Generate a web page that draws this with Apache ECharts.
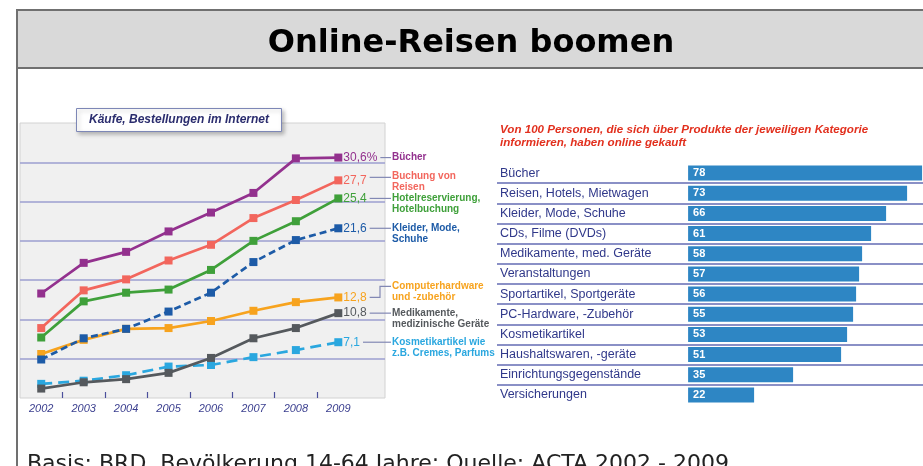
<!DOCTYPE html>
<html>
<head>
<meta charset="utf-8">
<script src="https://cdn.jsdelivr.net/npm/echarts@6/dist/echarts.min.js"></script>
<style>
  html, body { margin: 0; padding: 0; background: #fff; }
  #chart { width: 923px; height: 466px; }
</style>
</head>
<body>
<div id="chart"></div>
<script>
// line chart data (percent of population buying online)
var years = [2002, 2003, 2004, 2005, 2006, 2007, 2008, 2009];
var buecher     = [13.3, 17.2, 18.6, 21.2, 23.6, 26.1, 30.5, 30.6];
var reisen      = [8.9, 13.7, 15.1, 17.5, 19.5, 22.9, 25.2, 27.7];
var hotel       = [7.7, 12.3, 13.4, 13.8, 16.3, 20.0, 22.5, 25.4];
var kleider     = [4.9, 7.6, 8.8, 11.0, 13.4, 17.3, 20.1, 21.6];
var computer    = [5.6, 7.4, 8.8, 8.9, 9.8, 11.1, 12.2, 12.8];
var medikamente = [1.2, 2.0, 2.4, 3.2, 5.1, 7.6, 8.9, 10.8];
var kosmetik    = [1.8, 2.2, 2.9, 4.0, 4.2, 5.2, 6.1, 7.1];
var endTexts = ['30,6%', '27,7', '25,4', '21,6', '12,8', '10,8', '7,1'];
var lineNames = [
  'Bücher',
  'Buchung von\nReisen',
  'Hotelreservierung,\nHotelbuchung',
  'Kleider, Mode,\nSchuhe',
  'Computerhardware\nund -zubehör',
  'Medikamente,\nmedizinische Geräte',
  'Kosmetikartikel wie\nz.B. Cremes, Parfums'
];

// bar chart data
var barCats = ['Bücher', 'Reisen, Hotels, Mietwagen', 'Kleider, Mode, Schuhe', 'CDs, Filme (DVDs)',
  'Medikamente, med. Geräte', 'Veranstaltungen', 'Sportartikel, Sportgeräte', 'PC-Hardware, -Zubehör',
  'Kosmetikartikel', 'Haushaltswaren, -geräte', 'Einrichtungsgegenstände', 'Versicherungen'];
var barValues = [78, 73, 66, 61, 58, 57, 56, 55, 53, 51, 35, 22];

var colors = ['#93318e', '#f2665d', '#3fa03a', '#1d5ba7', '#f7a31e', '#55595d', '#2aa7df'];
var dashes = ['solid', 'solid', 'solid', [7, 4], 'solid', 'solid', [11, 6]];
var nameDy = [0, -4, 0, 0, -11, 0, 0];
var allValues = [buecher, reisen, hotel, kleider, computer, medikamente, kosmetik];

var chart = echarts.init(document.getElementById('chart'));

var lineSeries = allValues.map(function (vals, i) {
  return {
    type: 'line',
    xAxisIndex: 0,
    yAxisIndex: 0,
    data: years.map(function (y, k) { return [y, vals[k]]; }),
    symbol: 'rect',
    symbolSize: 8,
    color: colors[i],
    lineStyle: { width: 2.7, type: dashes[i] },
    z: 10 - i,
    endLabel: {
      show: true,
      formatter: endTexts[i],
      color: colors[i],
      fontSize: 12,
      fontFamily: 'Liberation Sans',
      distance: 5
    },
    animation: false
  };
});

chart.setOption({
  animation: false,
  title: [{
    text: 'Käufe, Bestellungen im Internet',
    left: 76,
    top: 108,
    padding: [6, 13],
    backgroundColor: '#fff',
    borderColor: '#7d87b6',
    borderWidth: 1,
    shadowColor: 'rgba(0,0,0,0.25)',
    shadowBlur: 4,
    shadowOffsetX: 2,
    shadowOffsetY: 2,
    textStyle: { fontSize: 12, fontStyle: 'italic', fontWeight: 'bold', color: '#2b2d6e', fontFamily: 'Liberation Sans' }
  }, {
    text: 'Von 100 Personen, die sich über Produkte der jeweiligen Kategorie\ninformieren, haben online gekauft',
    left: 500,
    top: 123,
    padding: 0,
    textStyle: { fontSize: 11.6, fontStyle: 'italic', fontWeight: 'bold', color: '#e2301e', lineHeight: 13.5, fontFamily: 'Liberation Sans' }
  }],
  grid: [{
    left: 20, top: 123, width: 365, height: 275,
    show: true, backgroundColor: '#f0f0f0', borderColor: '#d2d2d2', borderWidth: 1
  }, {
    left: 497, top: 163, width: 426, height: 242
  }],
  xAxis: [{
    gridIndex: 0,
    type: 'value',
    min: 2001.5,
    max: 2010.1,
    axisLine: { show: false },
    splitLine: { show: false },
    axisTick: {
      show: true, inside: true, length: 6,
      customValues: [2002.5, 2003.5, 2004.5, 2005.5, 2006.5, 2007.5, 2008.5],
      lineStyle: { color: '#4c4f9c', width: 1.2 }
    },
    axisLabel: {
      customValues: years,
      formatter: function (v) { return String(v); },
      color: '#3b3f8f', fontSize: 11, fontStyle: 'italic', fontFamily: 'Liberation Sans', margin: 5
    }
  }, {
    gridIndex: 1,
    type: 'value',
    min: -63.7,
    max: 78.3,
    show: false
  }],
  yAxis: [{
    gridIndex: 0,
    type: 'value',
    min: 0,
    max: 35,
    interval: 5,
    axisLine: { show: false },
    axisTick: { show: false },
    axisLabel: { show: false },
    splitLine: { show: true, showMinLine: false, showMaxLine: false, lineStyle: { color: '#9c9fd0', width: 1.5 } }
  }, {
    gridIndex: 1,
    type: 'category',
    inverse: true,
    data: barCats,
    axisLine: { show: false, onZero: false },
    axisTick: { show: false },
    axisLabel: { inside: true, margin: 3, color: '#30388a', fontSize: 12.5, fontFamily: 'Liberation Sans' },
    splitLine: { show: true, showMinLine: false, showMaxLine: false, lineStyle: { color: '#8a90c6', width: 2 } }
  }],
  series: lineSeries.concat([{
    type: 'bar',
    xAxisIndex: 1,
    yAxisIndex: 1,
    data: barValues,
    barWidth: 15,
    itemStyle: { color: '#2e86c4' },
    label: {
      show: true, position: 'insideLeft', distance: 5,
      color: '#fff', fontWeight: 'bold', fontSize: 11, fontFamily: 'Liberation Sans'
    }
  }]),
  graphic: [{
    id: 'header',
    type: 'rect',
    shape: { x: 17, y: 10, width: 920, height: 58 },
    style: { fill: '#d9d9d9', stroke: '#707070', lineWidth: 2 },
    z: 100
  }, {
    id: 'leftBorder',
    type: 'line',
    shape: { x1: 17, y1: 10, x2: 17, y2: 470 },
    style: { stroke: '#707070', lineWidth: 2 },
    z: 100
  }, {
    id: 'mainTitle',
    type: 'text',
    x: 471,
    y: 43.5,
    style: {
      text: 'Online-Reisen boomen',
      font: 'bold 32px "DejaVu Sans"',
      fill: '#000',
      textAlign: 'center',
      textVerticalAlign: 'middle'
    },
    z: 101
  }, {
    id: 'footer',
    type: 'text',
    x: 27,
    y: 464,
    style: {
      text: 'Basis: BRD, Bevölkerung 14-64 Jahre; Quelle: ACTA 2002 - 2009',
      font: '22px "DejaVu Sans"',
      fill: '#222',
      textVerticalAlign: 'middle'
    },
    z: 100
  }]
});

// connectors and names next to the line ends
var ctx = document.createElement('canvas').getContext('2d');
ctx.font = '12px "Liberation Sans"';
var extra = [];
var nameX = 392;
allValues.forEach(function (vals, i) {
  var p = chart.convertToPixel({ xAxisIndex: 0, yAxisIndex: 0 }, [years[years.length - 1], vals[vals.length - 1]]);
  var x0 = p[0] + 6 + ctx.measureText(endTexts[i]).width + 2;
  var yLine = p[1] + (i === 1 ? -3 : 0);
  var pts = [[x0, yLine], [nameX - 1, yLine]];
  if (i === 4) {
    pts = [[x0, yLine], [380, yLine], [380, yLine - 11], [nameX - 1, yLine - 11]];
  }
  extra.push({
    id: 'conn' + i,
    type: 'polyline',
    shape: { points: pts },
    style: { stroke: '#8288b4', lineWidth: 1.2, fill: null },
    z: 50
  });
  extra.push({
    id: 'name' + i,
    type: 'text',
    x: nameX,
    y: p[1] + nameDy[i] - 6,
    style: {
      text: lineNames[i],
      font: 'bold 10px "Liberation Sans"',
      fill: colors[i],
      lineHeight: 11.5,
      width: 104,
      overflow: 'truncate',
      ellipsis: ''
    },
    z: 50
  });
});
chart.setOption({ graphic: extra });
</script>
</body>
</html>
